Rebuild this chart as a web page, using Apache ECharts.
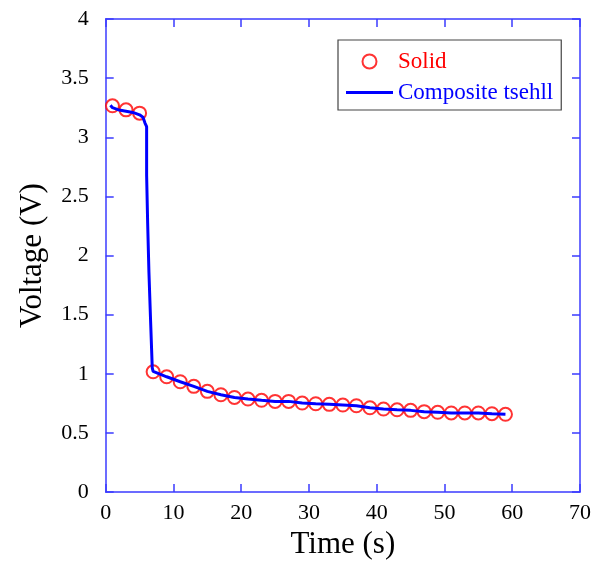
<!DOCTYPE html>
<html>
<head>
<meta charset="utf-8">
<script src="https://cdn.jsdelivr.net/npm/echarts@6/dist/echarts.min.js"></script>
<style>html,body{margin:0;padding:0;background:#fff;}#c{width:594px;height:565px;}</style>
</head>
<body>
<div id="c"></div>
<script>
// Measured data: "Solid" markers (time in s, voltage in V)
var solidTime = [1,3,5,7,9,11,13,15,17,19,21,23,25,27,29,31,33,35,37,39,41,43,45,47,49,51,53,55,57,59];
var solidVolt = [3.266,3.232,3.204,1.017,0.975,0.933,0.894,0.852,0.823,0.800,0.787,0.776,0.767,0.767,0.753,0.747,0.742,0.736,0.730,0.713,0.702,0.696,0.691,0.680,0.675,0.669,0.669,0.669,0.663,0.658];
// "Composite tsehll" curve
var shellTime = [0.7,1,2,3,4,5,5.5,5.8,6.04,6.04,6.19,6.19,6.38,6.38,6.63,6.63,6.87,6.87,7,9,11,13,15,17,19,21,23,25,27,29,31,33,35,37,39,41,43,45,47,49,51,53,55,57,59];
var shellVolt = [3.27,3.25,3.23,3.22,3.21,3.19,3.17,3.12,3.09,2.68,2.68,2.28,2.28,1.86,1.86,1.44,1.44,1.05,1.02,0.975,0.933,0.894,0.852,0.823,0.800,0.787,0.776,0.767,0.767,0.753,0.747,0.742,0.736,0.730,0.713,0.702,0.696,0.691,0.680,0.675,0.669,0.669,0.669,0.663,0.658];
var xTicks = {min:0, max:70, interval:10};
var yTicks = {min:0, max:4, interval:0.5};

function zip(a,b){var r=[];for(var i=0;i<a.length;i++){r.push([a[i],b[i]]);}return r;}

var FONT = 'Liberation Serif';
var AX = '#3b3bff';
var axisCommon = {
  axisLine:{show:true, onZero:false, lineStyle:{color:AX, width:1.5}},
  axisTick:{show:true, inside:true, length:8, lineStyle:{color:AX, width:1.5}},
  splitLine:{show:false}
};
function ax(o){var r={};for(var k in axisCommon){r[k]=axisCommon[k];}for(var k2 in o){r[k2]=o[k2];}return r;}

var lineIcon = 'path://M0,0L0.001,0L0.001,14L0,14Z M0,5.5L47,5.5L47,8.5L0,8.5Z';

var chart = echarts.init(document.getElementById('c'), null, {renderer:'canvas'});
chart.setOption({
  animation:false,
  backgroundColor:'#ffffff',
  grid:{left:105.7, top:19, right:13.3, bottom:71.7, containLabel:false},
  xAxis:[
    ax({type:'value', position:'bottom', min:xTicks.min, max:xTicks.max, interval:xTicks.interval,
      name:'Time (s)', nameLocation:'middle', nameGap:34,
      nameTextStyle:{fontFamily:FONT, fontSize:31, color:'#000'},
      axisLabel:{fontFamily:FONT, fontSize:22, color:'#000', margin:10}}),
    ax({type:'value', position:'top', min:xTicks.min, max:xTicks.max, interval:xTicks.interval,
      axisLabel:{show:false}})
  ],
  yAxis:[
    ax({type:'value', position:'left', min:yTicks.min, max:yTicks.max, interval:yTicks.interval,
      name:'Voltage (V)', nameLocation:'middle', nameGap:57, nameRotate:90,
      nameTextStyle:{fontFamily:FONT, fontSize:31, color:'#000'},
      axisLabel:{fontFamily:FONT, fontSize:22, color:'#000', margin:17}}),
    ax({type:'value', position:'right', min:yTicks.min, max:yTicks.max, interval:yTicks.interval,
      axisLabel:{show:false}})
  ],
  legend:{
    orient:'vertical', left:338, top:40,
    itemWidth:47, itemHeight:14, itemGap:8,
    padding:[10,8,6,8],
    borderColor:'#444', borderWidth:1.2, backgroundColor:'#fff',
    textStyle:{fontFamily:FONT, fontSize:23, lineHeight:21},
    data:[
      {name:'Solid', textStyle:{color:'#ff0000'}},
      {name:'Composite tsehll', icon:lineIcon, itemStyle:{color:'#0000ff'}, textStyle:{color:'#0000ff'}}
    ]
  },
  series:[
    {name:'Solid', type:'scatter', data:zip(solidTime, solidVolt),
      symbol:'emptyCircle', symbolSize:13, z:2,
      itemStyle:{color:'#ff0000', borderColor:'#ff0000', borderWidth:1.3}},
    {name:'Composite tsehll', type:'line', data:zip(shellTime, shellVolt),
      showSymbol:false, symbol:'none', z:3,
      lineStyle:{color:'#0000ff', width:3}, itemStyle:{color:'#0000ff'}}
  ]
});
</script>
</body>
</html>
